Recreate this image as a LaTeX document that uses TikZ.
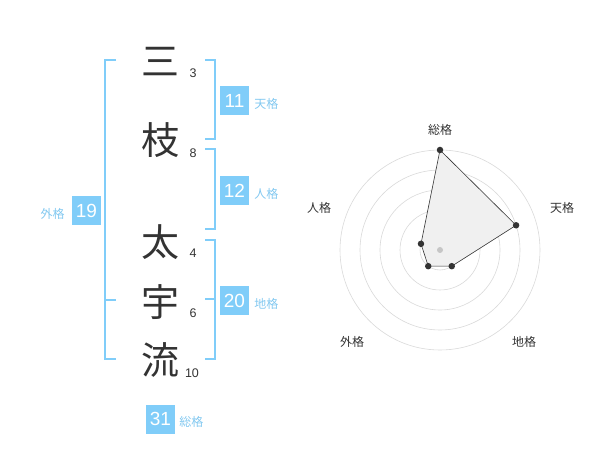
\documentclass[tikz,border=0pt]{standalone}
\usepackage{fontspec}
\setmainfont{Liberation Sans}
\newfontfamily\cjk{Noto Sans CJK JP}
\usetikzlibrary{positioning,calc}
\definecolor{kakublue}{RGB}{128,205,249}
\definecolor{kakutext}{RGB}{130,200,240}
\definecolor{inkgray}{RGB}{51,51,51}

\begin{document}
\begin{tikzpicture}[x=1pt, y=-1pt,
  kanji/.style={font=\cjk\fontsize{38}{38}\selectfont, text=inkgray, inner sep=0pt},
  strokes/.style={font=\fontsize{12.5}{13}\selectfont, text=inkgray, inner sep=0pt},
  kakubox/.style={fill=kakublue, text=white, minimum size=29pt, inner sep=0pt,
                  font=\fontsize{19}{19}\selectfont},
  kakulabel/.style={font=\cjk\fontsize{12}{12}\selectfont, text=kakutext, inner sep=0pt},
  bracket/.style={draw=kakublue, line width=1.6pt},
  ring/.style={draw=gray!30, line width=0.6pt},
  axislabel/.style={font=\cjk\fontsize{12}{12}\selectfont, text=inkgray, inner sep=0pt},
  dot/.style={circle, fill=inkgray, inner sep=0pt, minimum size=6.5pt}
]
\useasboundingbox (0,0) rectangle (600,470);

% Name characters and stroke counts
\node[kanji] (k1) at (160,62) {三};
\node[kanji] (k2) at (160,140) {枝};
\node[kanji] (k3) at (160,242) {太};
\node[kanji] (k4) at (160,302) {宇};
\node[kanji] (k5) at (160,360) {流};
\node[strokes] (s1) at (193,73) {3};
\node[strokes] (s2) at (193,153) {8};
\node[strokes] (s3) at (193,253) {4};
\node[strokes] (s4) at (193,313) {6};
\node[strokes] (s5) at (192,373) {10};

% Brackets
\draw[bracket] (116,60) -- (105,60) -- (105,359) -- (116,359);
\draw[bracket] (105,300) -- (116,300);
\draw[bracket] (205,60) -- (215,60) -- (215,139) -- (205,139);
\draw[bracket] (205,149) -- (215,149) -- (215,229) -- (205,229);
\draw[bracket] (205,240) -- (215,240) -- (215,359) -- (205,359);
\draw[bracket] (205,299) -- (215,299);

% Kaku values
\node[kakubox] (ten) at (234.5,100.5) {11};
\node[kakubox] (jin) at (234.5,190.5) {12};
\node[kakubox] (gai) at (86.5,210.5) {19};
\node[kakubox] (chi) at (234.5,300.5) {20};
\node[kakubox] (sou) at (160.5,419) {31};
\node[kakulabel, right=5pt of ten, yshift=-3pt] (tenl) {天格};
\node[kakulabel, right=5pt of jin, yshift=-3pt] (jinl) {人格};
\node[kakulabel, right=5pt of chi, yshift=-3pt] (chil) {地格};
\node[kakulabel, right=4pt of sou, yshift=-3pt] (soul) {総格};
\node[kakulabel, left=7pt of gai, yshift=-3pt] (gail) {外格};

% Radar chart
\coordinate (c) at (440,250);
\foreach \r in {20,40,60,80,100}
  \draw[ring] (c) circle (\r);

\coordinate (psou) at ($(c)+(0,-100)$);
\coordinate (pten) at ($(c)+({80*cos(18)},{-80*sin(18)})$);
\coordinate (pchi) at ($(c)+({20*cos(54)},{20*sin(54)})$);
\coordinate (pgai) at ($(c)+({-20*cos(54)},{20*sin(54)})$);
\coordinate (pjin) at ($(c)+({-20*cos(18)},{-20*sin(18)})$);

\filldraw[fill=gray!12, draw=inkgray, line width=0.6pt]
  (psou) -- (pten) -- (pchi) -- (pgai) -- (pjin) -- cycle;
\node[circle, fill=gray!45, inner sep=0pt, minimum size=6pt] at (c) {};
\foreach \p in {psou,pten,pchi,pgai,pjin}
  \node[dot] at (\p) {};

\node[axislabel] (asou) at (440,130) {総格};
\node[axislabel] (aten) at (562,208) {天格};
\node[axislabel] (achi) at (524,342) {地格};
\node[axislabel] (agai) at (352,342) {外格};
\node[axislabel] (ajin) at (319,208) {人格};

\end{tikzpicture}
\end{document}
